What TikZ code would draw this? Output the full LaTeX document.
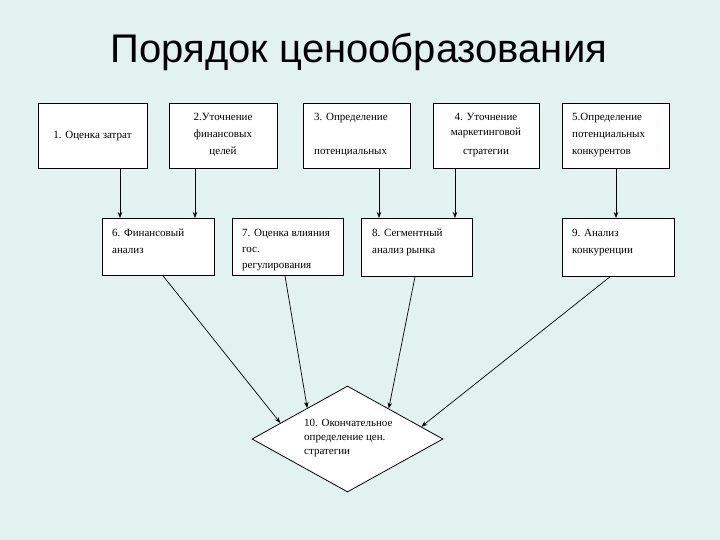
\documentclass[tikz,border=0pt]{standalone}
\usepackage{fontspec}
\setmainfont{Liberation Serif}
\newfontfamily\titlefont{Liberation Sans}
\usetikzlibrary{shapes.geometric,arrows.meta,calc}
\definecolor{bgc}{RGB}{226,243,239}
\tikzset{
  box/.style={draw=black, fill=white, line width=0.8pt, inner sep=0pt, anchor=north west},
  lbl/.style={inner sep=0pt, font=\fontsize{11}{17}\selectfont},
  arr/.style={draw=black, line width=0.7pt, -{Stealth[length=6pt,width=4.5pt]}},
}
\begin{document}
\begin{tikzpicture}[x=1pt,y=-1pt]
\useasboundingbox (0,0) rectangle (720,540);
\fill[bgc] (0,0) rectangle (720,540);
\node[inner sep=0pt, anchor=base, font=\titlefont\fontsize{40}{44}\selectfont] (title) at (359,63) {Порядок ценообразования};
% row 1
\node[box, minimum width=109pt, minimum height=65pt] (b1) at (38,103) {};
\node[box, minimum width=108pt, minimum height=65pt] (b2) at (169,103) {};
\node[box, minimum width=107pt, minimum height=65pt] (b3) at (303,103) {};
\node[box, minimum width=106pt, minimum height=65pt] (b4) at (433,103) {};
\node[box, minimum width=107pt, minimum height=65pt] (b5) at (562,103) {};
% row 2
\node[box, minimum width=112pt, minimum height=57pt] (b6) at (102,218) {};
\node[box, minimum width=111pt, minimum height=57pt] (b7) at (232,218) {};
\node[box, minimum width=111pt, minimum height=58pt] (b8) at (361,218) {};
\node[box, minimum width=112pt, minimum height=58pt] (b9) at (562,218) {};
% diamond
\node[draw=black, fill=white, line width=0.8pt, diamond, inner sep=0pt, minimum width=191pt, minimum height=106pt] (d) at (347.5,439) {};
% texts
\node[lbl, anchor=base] (t1) at (92.5,139) {1. Оценка затрат};
\node[lbl, anchor=north, align=center] (t2) at (223,108) {\strut 2.Уточнение\\финансовых\\целей};
\node[lbl, anchor=north west, align=left] (t3) at (314,108) {\strut 3. Определение\\[17pt]потенциальных};
\node[lbl, anchor=north, align=center] (t4) at (486,108) {\strut 4. Уточнение\\[-2pt]маркетинговой\\[2pt]стратегии};
\node[lbl, anchor=north west, align=left] (t5) at (572,108) {\strut 5.Определение\\потенциальных\\конкурентов};
\node[lbl, anchor=north west, align=left] (t6) at (112,224) {\strut 6. Финансовый\\анализ};
\node[lbl, anchor=north west, align=left, font=\fontsize{11}{16}\selectfont] (t7) at (242,224.8) {\strut 7. Оценка влияния\\гос.\\регулирования};
\node[lbl, anchor=north west, align=left] (t8) at (372,224) {\strut 8. Сегментный\\анализ рынка};
\node[lbl, anchor=north west, align=left] (t9) at (572,224) {\strut 9. Анализ\\конкуренции};
\node[lbl, anchor=north west, align=left, font=\fontsize{11}{14}\selectfont] (t10) at (304,416.7) {\strut 10. Окончательное\\определение цен.\\стратегии};
% vertical arrows
\draw[arr] (b1.south -| 120,0) -- (b6.north -| 120,0);
\draw[arr] (b2.south -| 195,0) -- (b6.north -| 195,0);
\draw[arr] (b3.south -| 379,0) -- (b8.north -| 379,0);
\draw[arr] (b4.south -| 455,0) -- (b8.north -| 455,0);
\draw[arr] (b5.south -| 616,0) -- (b9.north -| 616,0);
% diagonal arrows
\draw[arr] (b6.south -| 163,0) -- ($(d.west)!0.3!(d.north)$);
\draw[arr] (b7.south -| 285,0) -- ($(d.west)!0.58!(d.north)$);
\draw[arr] (b8.south -| 415,0) -- ($(d.north)!0.43!(d.east)$);
\draw[arr] (b9.south -| 610,0) -- ($(d.north)!0.77!(d.east)$);
\end{tikzpicture}
\end{document}
